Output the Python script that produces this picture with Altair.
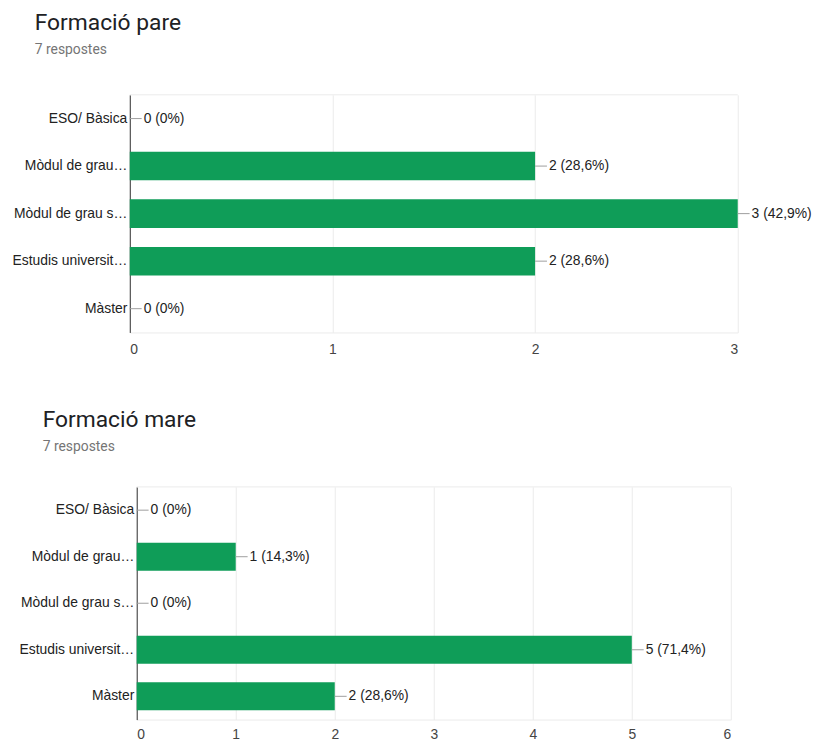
import altair as alt
import pandas as pd

categories = ["ESO/ Bàsica", "Mòdul de grau…", "Mòdul de grau s…", "Estudis universit…", "Màster"]
pare_values = [0, 2, 3, 2, 0]
mare_values = [0, 1, 0, 5, 2]
total_pare = 7
total_mare = 7


def fmt(v, total):
    if v == 0:
        return "0 (0%)"
    p = round(v / total * 100, 1)
    return f"{v} ({str(p).replace('.', ',')}%)"


def make_df(values, total):
    return pd.DataFrame({
        "cat": categories,
        "val": values,
        "label": [fmt(v, total) for v in values],
    })


GREEN = "#0f9d58"
FONT = "Liberation Sans"
BORDER = "#ebebeb"


def panel(df, title, subtitle, xmax, width, height, shift, offset, dx, xpad):
    x_scale = alt.Scale(domain=[0, xmax], nice=False, range=[shift, width])
    y_scale = alt.Scale(domain=categories, paddingInner=0.4, paddingOuter=0.2)
    y_enc = alt.Y("cat:N", sort=categories, scale=y_scale, title=None,
                  axis=alt.Axis(domainColor="#333333", domainWidth=1, ticks=False,
                                labelPadding=3, labelFontSize=14, labelColor="#222222",
                                labelFont=FONT, labelLimit=200, grid=False,
                                offset=-shift))
    x_enc = alt.X("val:Q", scale=x_scale, title=None,
                  axis=alt.Axis(values=list(range(0, xmax + 1)), format="d",
                                domain=True, domainColor=BORDER, ticks=False,
                                grid=True, gridColor=BORDER, labelPadding=xpad,
                                labelFontSize=14, labelColor="#444444", labelFont=FONT))
    base = alt.Chart(df)
    bars = base.mark_bar(color=GREEN).encode(x=x_enc, y=y_enc)
    conn = base.mark_rule(color="#9e9e9e", x2Offset=12, strokeWidth=1).encode(
        x=alt.X("val:Q", scale=x_scale), x2="val:Q",
        y=alt.Y("cat:N", sort=categories, scale=y_scale, bandPosition=0.5))
    text = base.mark_text(align="left", baseline="middle", dx=14, fontSize=14,
                          color="#222222", font=FONT).encode(
        x=alt.X("val:Q", scale=x_scale),
        y=alt.Y("cat:N", sort=categories, scale=y_scale, bandPosition=0.5),
        text="label:N")
    top_border = alt.Chart(alt.Data(values=[{}])).mark_rule(color=BORDER).encode(
        x=alt.value(shift), x2=alt.value(width), y=alt.value(0))
    return alt.layer(top_border, bars, conn, text).properties(
        width=width, height=height,
        view=alt.ViewConfig(stroke=None),
        title=alt.TitleParams(text=title, subtitle=subtitle, anchor="start",
                              frame="group",
                              font="Roboto", fontSize=23, fontWeight="normal",
                              color="#202124", subtitleFont="Roboto",
                              subtitleFontSize=14, subtitleColor="#757575",
                              subtitlePadding=8, offset=offset, dx=dx),
    )


top = panel(make_df(pare_values, total_pare), "Formació pare", "7 respostes",
            3, 614, 240, 0, 38, -96, 10)
bottom = panel(make_df(mare_values, total_mare), "Formació mare", "7 respostes",
               6, 607, 235, 7, 33, -88, 8)

chart = alt.vconcat(top, bottom, spacing=53).properties(
    padding={"left": 4, "top": 0, "right": 0, "bottom": 0}
).configure(background="white")

chart.save("out.html", embed_options={"renderer": "svg", "actions": False})
